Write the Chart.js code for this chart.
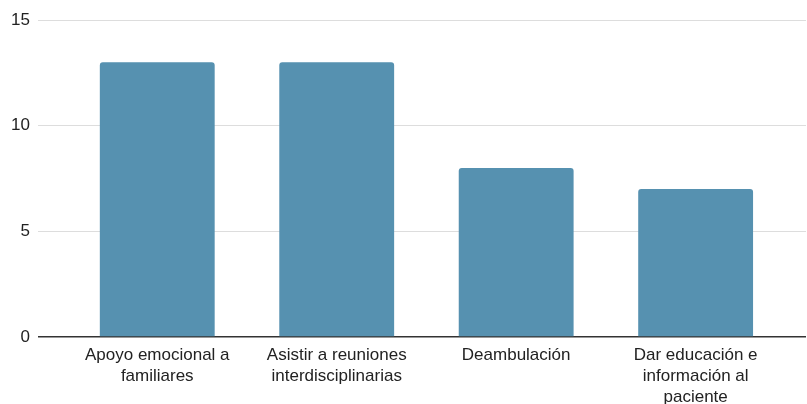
<!DOCTYPE html>
<html>
<head>
<meta charset="utf-8">
<script src="https://cdn.jsdelivr.net/npm/chart.js@4"></script>
<style>
    html, body { margin: 0; padding: 0; background: #ffffff; }
    #wrap { width: 807px; height: 404px; }
</style>
</head>
<body>
<div id="wrap"><canvas id="activityChart"></canvas></div>
<script>
// Chart data
const categories = [
    ["Apoyo emocional a", "familiares"],
    ["Asistir a reuniones", "interdisciplinarias"],
    ["Deambulación"],
    ["Dar educación e", "información al", "paciente"]
];
const counts = [13, 13, 8, 7];
const yTicks = [0, 5, 10, 15];

document.addEventListener("DOMContentLoaded", () => {
    const ctx = document.getElementById("activityChart");

    new Chart(ctx, {
        type: "bar",
        data: {
            labels: categories,
            datasets: [
                {
                    data: counts,
                    backgroundColor: "#5691b0",
                    borderRadius: { topLeft: 3, topRight: 3 },
                    borderSkipped: "start",
                    categoryPercentage: 0.8,
                    barPercentage: 0.8,
                },
            ],
        },
        options: {
            responsive: true,
            maintainAspectRatio: false,
            animation: false,
            layout: { padding: { top: 20, left: 3, right: 1, bottom: 0 } },
            plugins: {
                legend: { display: false },
                tooltip: { enabled: false },
            },
            scales: {
                x: {
                    offset: true,
                    grid: { display: false, drawTicks: false },
                    border: { display: false },
                    afterFit: (scale) => {
                        scale.height = 67;
                    },
                    // a little extra room on both sides of the category band
                    afterBuildTicks: (scale) => {
                        scale._startValue = -0.665;
                        scale._valueRange = 4.28;
                    },
                    ticks: {
                        color: "#222222",
                        font: { family: "'Liberation Sans', Arial, sans-serif", size: 17, lineHeight: 1.22 },
                        padding: 8,
                        maxRotation: 0,
                        autoSkip: false,
                    },
                },
                y: {
                    min: yTicks[0],
                    max: yTicks[yTicks.length - 1],
                    border: { display: false },
                    grid: {
                        drawTicks: false,
                        color: (c) => (c.tick && c.tick.value === 0 ? "#333333" : "#dddddd"),
                        lineWidth: (c) => (c.tick && c.tick.value === 0 ? 1.5 : 1),
                    },
                    afterBuildTicks: (scale) => {
                        scale.ticks = yTicks.map((v) => ({ value: v }));
                    },
                    ticks: {
                        color: "#222222",
                        font: { family: "'Liberation Sans', Arial, sans-serif", size: 17 },
                        padding: 8,
                    },
                },
            },
        },
    });
});
</script>
</body>
</html>
